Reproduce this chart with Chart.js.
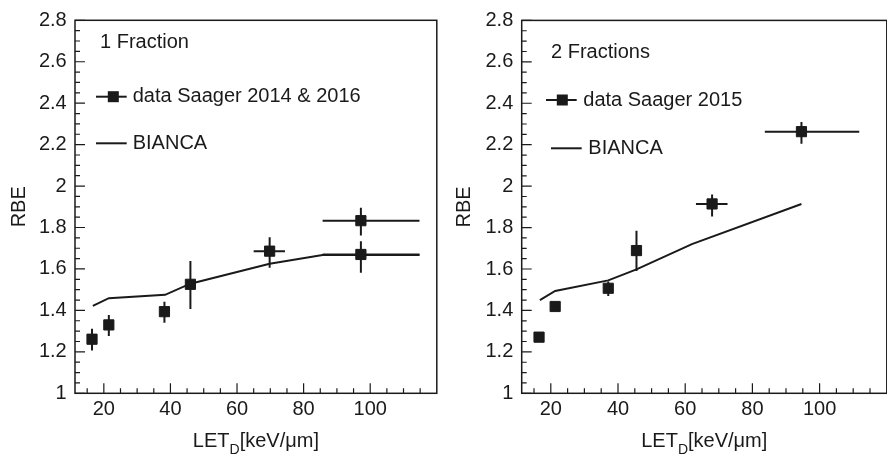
<!DOCTYPE html>
<html>
<head>
<meta charset="utf-8">
<script src="https://cdn.jsdelivr.net/npm/chart.js@4.4.1/dist/chart.umd.min.js"></script>
<style>
html, body { margin: 0; padding: 0; overflow: hidden; background: #fff; width: 887px; height: 455px; }
#left { position: absolute; left: 0; top: 0; }
#right { position: absolute; left: 445px; top: 0; }
</style>
</head>
<body>
<canvas id="left" width="445" height="455"></canvas>
<canvas id="right" width="450" height="455"></canvas>
<script>
// --- data ---
// panel 1: 1 fraction
const let1 = [16.45, 21.5, 38.2, 46.0, 69.8, 97.2, 97.2];
const rbe1 = [1.261, 1.330, 1.394, 1.526, 1.686, 1.670, 1.833];
const rbe1Lo = [1.207, 1.276, 1.340, 1.407, 1.606, 1.582, 1.762];
const rbe1Hi = [1.311, 1.378, 1.442, 1.638, 1.753, 1.734, 1.896];
const let1Lo = [16.45, 21.5, 38.2, 46.0, 65.0, 85.7, 85.7];
const let1Hi = [16.45, 21.5, 38.2, 46.0, 74.4, 114.8, 114.8];
const bianca1Let = [16.7, 21.5, 38.4, 46.0, 69.8, 85.7, 114.8];
const bianca1Rbe = [1.422, 1.459, 1.475, 1.529, 1.625, 1.667, 1.667];

// panel 2: 2 fractions
const let2 = [16.5, 21.3, 37.1, 45.5, 68.0, 94.6];
const rbe2 = [1.271, 1.419, 1.507, 1.689, 1.914, 2.263];
const rbe2Lo = [1.255, 1.400, 1.470, 1.590, 1.853, 2.204];
const rbe2Hi = [1.287, 1.438, 1.540, 1.785, 1.960, 2.310];
const let2Lo = [16.5, 21.3, 37.1, 45.5, 63.2, 83.7];
const let2Hi = [16.5, 21.3, 37.1, 45.5, 72.6, 111.8];
const bianca2Let = [16.75, 21.3, 37.1, 45.5, 62.0, 94.6];
const bianca2Rbe = [1.450, 1.494, 1.545, 1.598, 1.720, 1.914];

// axes
const xTicks = [20, 40, 60, 80, 100];
const yTicks = [1, 1.2, 1.4, 1.6, 1.8, 2, 2.2, 2.4, 2.6, 2.8];
const xMin = 11.34, xMax = 120;
const yMin = 1, yMax = 2.8;

const INK = '#1a1a1a';
const FONT = '"Liberation Sans", Arial, Helvetica, sans-serif';
const FS = 20;

function pts(xs, ys) {
    return xs.map((v, i) => ({ x: v, y: ys[i] }));
}

// error bars, drawn under the markers
function errorBarsPlugin(xs, ys, xLo, xHi, yLo, yHi) {
    return {
        id: 'errorBars',
        beforeDatasetsDraw(chart) {
            const { ctx, scales: { x, y } } = chart;
            ctx.save();
            ctx.strokeStyle = INK;
            ctx.lineWidth = 2;
            ctx.beginPath();
            xs.forEach((xv, i) => {
                const px = x.getPixelForValue(xv);
                const py = y.getPixelForValue(ys[i]);
                ctx.moveTo(px, y.getPixelForValue(yLo[i]));
                ctx.lineTo(px, y.getPixelForValue(yHi[i]));
                if (xLo[i] !== xHi[i]) {
                    ctx.moveTo(x.getPixelForValue(xLo[i]), py);
                    ctx.lineTo(x.getPixelForValue(xHi[i]), py);
                }
            });
            ctx.stroke();
            ctx.restore();
        }
    };
}

// frame + inward ticks (ROOT style)
const frameTicks = {
    id: 'frameTicks',
    afterDatasetsDraw(chart) {
        const { ctx, chartArea: a, scales: { x, y } } = chart;
        ctx.save();
        ctx.strokeStyle = INK;
        ctx.lineWidth = 1.5;
        ctx.strokeRect(a.left, a.top, a.right - a.left, a.bottom - a.top);
        ctx.lineWidth = 1.2;
        ctx.beginPath();
        for (let v = 15; v < xMax; v += 5) {
            const px = x.getPixelForValue(v);
            const len = v % 20 === 0 ? 10 : 5;
            ctx.moveTo(px, a.bottom);
            ctx.lineTo(px, a.bottom - len);
        }
        for (let i = 0; i <= 36; i++) {
            const py = y.getPixelForValue(yMin + i * 0.05);
            const len = i % 4 === 0 ? 10 : 5;
            ctx.moveTo(a.left, py);
            ctx.lineTo(a.left + len, py);
        }
        ctx.stroke();
        ctx.restore();
    }
};

// x title with subscript, panel caption and legend
function labelsPlugin(cfg) {
    return {
        id: 'labels',
        afterDraw(chart) {
            const { ctx, chartArea: a } = chart;
            ctx.save();
            ctx.fillStyle = INK;
            ctx.strokeStyle = INK;

            // x title: LET_D[keV/μm]
            const main = FS + 'px ' + FONT, sub = '14px ' + FONT;
            ctx.font = main;
            const w1 = ctx.measureText('LET').width;
            const w3 = ctx.measureText('[keV/μm]').width;
            ctx.font = sub;
            const w2 = ctx.measureText('D').width;
            let x0 = (a.left + a.right) / 2 - (w1 + w2 + w3) / 2;
            const base = 447;
            ctx.textAlign = 'left';
            ctx.textBaseline = 'alphabetic';
            ctx.font = main;
            ctx.fillText('LET', x0, base);
            ctx.font = sub;
            ctx.fillText('D', x0 + w1, base + 6.5);
            ctx.font = main;
            ctx.fillText('[keV/μm]', x0 + w1 + w2, base);

            // caption
            ctx.textBaseline = 'middle';
            ctx.font = FS + 'px ' + FONT;
            ctx.fillText(cfg.caption, a.left + cfg.capX, cfg.capY);

            // legend row 1: data with marker
            const r1 = cfg.row1;
            ctx.lineWidth = 2;
            ctx.beginPath();
            ctx.moveTo(a.left + r1.x0, r1.y);
            ctx.lineTo(a.left + r1.x1, r1.y);
            ctx.stroke();
            ctx.fillRect(a.left + r1.m - 5.5, r1.y - 5.5, 11, 11);
            ctx.fillText(cfg.dataLabel, a.left + r1.t, r1.y);

            // legend row 2: BIANCA line
            const r2 = cfg.row2;
            ctx.beginPath();
            ctx.moveTo(a.left + r2.x0, r2.y);
            ctx.lineTo(a.left + r2.x1, r2.y);
            ctx.stroke();
            ctx.fillText('BIANCA', a.left + r2.t, r2.y);
            ctx.restore();
        }
    };
}

function makePanel(id, p) {
    const ctx = document.getElementById(id).getContext('2d');
    new Chart(ctx, {
        type: 'scatter',
        data: {
            datasets: [
                {
                    label: 'BIANCA',
                    data: pts(p.bLet, p.bRbe),
                    showLine: true,
                    borderColor: INK,
                    borderWidth: 2,
                    pointRadius: 0,
                    tension: 0,
                    order: 2
                },
                {
                    label: p.dataLabel,
                    data: pts(p.let, p.rbe),
                    pointStyle: 'rect',
                    pointRadius: 7.2,
                    backgroundColor: INK,
                    borderColor: INK,
                    borderWidth: 1,
                    order: 1
                }
            ]
        },
        options: {
            responsive: false,
            animation: false,
            layout: { padding: { top: 17.3, right: p.padRight, left: 0, bottom: 0 } },
            plugins: {
                legend: { display: false },
                tooltip: { enabled: false }
            },
            scales: {
                x: {
                    type: 'linear',
                    min: xMin,
                    max: xMax,
                    grid: { display: false, drawTicks: false },
                    border: { display: false },
                    afterBuildTicks: s => { s.ticks = xTicks.map(v => ({ value: v })); },
                    afterFit: s => { s.height = 61.7; },
                    ticks: {
                        color: INK,
                        padding: 4,
                        maxRotation: 0,
                        font: { family: FONT, size: FS },
                        callback: v => String(v)
                    }
                },
                y: {
                    type: 'linear',
                    min: yMin,
                    max: yMax,
                    grid: { display: false, drawTicks: false },
                    border: { display: false },
                    afterBuildTicks: s => { s.ticks = yTicks.map(v => ({ value: v })); },
                    afterFit: s => { s.width = p.yWidth; },
                    title: {
                        display: true,
                        text: 'RBE',
                        color: INK,
                        font: { family: FONT, size: FS },
                        padding: { top: 7, bottom: 0 }
                    },
                    ticks: {
                        color: INK,
                        padding: p.yPad,
                        font: { family: FONT, size: FS },
                        callback: v => String(+v.toFixed(1))
                    }
                }
            }
        },
        plugins: [
            errorBarsPlugin(p.let, p.rbe, p.letLo, p.letHi, p.rbeLo, p.rbeHi),
            frameTicks,
            labelsPlugin(p.legend)
        ]
    });
}

makePanel('left', {
    let: let1, rbe: rbe1, letLo: let1Lo, letHi: let1Hi, rbeLo: rbe1Lo, rbeHi: rbe1Hi,
    bLet: bianca1Let, bRbe: bianca1Rbe,
    dataLabel: 'data Saager 2014 & 2016',
    yWidth: 75, yPad: 8.3, padRight: 2.3,
    legend: {
        caption: '1 Fraction', capX: 25, capY: 42,
        dataLabel: 'data Saager 2014 & 2016',
        row1: { x0: 21, x1: 51.7, m: 38.3, t: 57.7, y: 96.7 },
        row2: { x0: 21, x1: 51.7, t: 57.7, y: 143.3 }
    }
});

makePanel('right', {
    let: let2, rbe: rbe2, letLo: let2Lo, letHi: let2Hi, rbeLo: rbe2Lo, rbeHi: rbe2Hi,
    bLet: bianca2Let, bRbe: bianca2Rbe,
    dataLabel: 'data Saager 2015',
    yWidth: 76.7, yPad: 8.4, padRight: 5.6,
    legend: {
        caption: '2 Fractions', capX: 29.3, capY: 52.3,
        dataLabel: 'data Saager 2015',
        row1: { x0: 24.3, x1: 55, m: 40.6, t: 61.6, y: 100 },
        row2: { x0: 29.3, x1: 60, t: 66.6, y: 148.3 }
    }
});
</script>
</body>
</html>
